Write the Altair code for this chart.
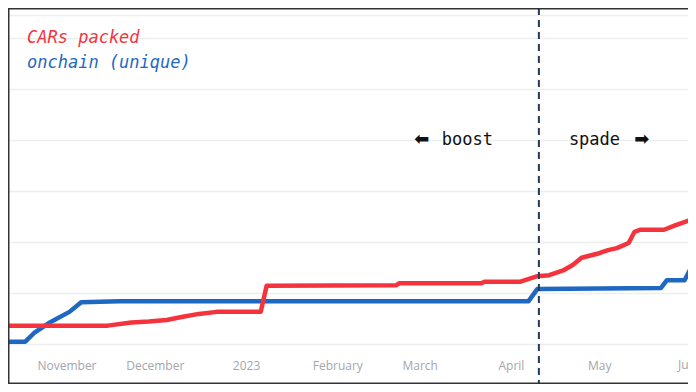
import altair as alt
import pandas as pd

# ---- data ----
onchain_dates = ["2022-10-09T00:00", "2022-10-18T00:00", "2022-10-21T00:00", "2022-10-26T00:00",
                 "2022-11-02T00:00", "2022-11-06T00:00", "2022-11-19T00:00", "2023-04-07T00:00",
                 "2023-04-10T00:00", "2023-05-22T00:00", "2023-05-24T00:00", "2023-05-30T00:00",
                 "2023-06-03T00:00"]
onchain_vals = [4.5, 4.5, 21.6, 41, 63, 82, 84, 84, 108, 110, 125, 125, 169]

cars_dates = ["2022-10-09T00:00", "2022-11-15T00:00", "2022-11-23T00:00", "2022-11-29T00:00",
              "2022-12-05T00:00", "2022-12-11T00:00", "2022-12-16T00:00", "2022-12-22T00:00",
              "2023-01-06T00:00", "2023-01-08T00:00", "2023-02-21T00:00", "2023-02-22T00:00",
              "2023-03-22T00:00", "2023-03-23T00:00", "2023-04-04T00:00", "2023-04-10T00:00",
              "2023-04-14T00:00", "2023-04-19T00:00", "2023-04-22T00:00", "2023-04-25T00:00",
              "2023-05-01T00:00", "2023-05-04T00:00", "2023-05-07T00:00", "2023-05-11T00:00",
              "2023-05-13T00:00", "2023-05-15T00:00", "2023-05-23T00:00", "2023-05-27T00:00",
              "2023-06-01T00:00", "2023-06-03T00:00"]
cars_vals = [36, 36, 42, 44, 47, 54, 59, 63, 63, 114, 115, 119, 119, 122, 122, 133,
             135, 145, 155, 169, 178, 184, 188, 198, 220, 224, 224, 233, 243, 250]

legend_labels = ["CARs packed", "onchain (unique)"]
split_date = ["2023-04-10T12:00"]
phase_labels = ["boost", "spade"]
phase_arrows = ["⬅", "➡"]
grid_values = [0, 100, 200, 300, 400, 500, 600, 645]
extra_tick = ["2023-06-01T00:00"]
extra_tick_label = ["June"]

RED = "#f5333d"
BLUE = "#1e68c4"
W, H = 680, 329
TOP = 7

x_scale = alt.Scale(domain=[alt.DateTime(year=2022, month=10, date=12, hours=3),
                            alt.DateTime(year=2023, month=5, date=31, hours=4)])
y_scale = alt.Scale(domain=[0, 645], nice=False, zero=True)

x_axis = alt.Axis(title=None, grid=False, domain=False, ticks=False,
                  tickCount={"interval": "month", "step": 1},
                  labelFont="Open Sans", labelFontSize=12, labelColor="#a2a6ad",
                  labelPadding=16, labelFlush=False)
y_axis = alt.Axis(title=None, labels=False, ticks=False, domain=False, grid=True,
                  values=grid_values, gridColor="#eceef0", gridWidth=1.6)

onchain_df = pd.DataFrame({"date": onchain_dates, "value": onchain_vals})
cars_df = pd.DataFrame({"date": cars_dates, "value": cars_vals})

blue = alt.Chart(onchain_df).mark_line(color=BLUE, strokeWidth=4.5, clip=True,
                                       strokeJoin="round").encode(
    x=alt.X("date:T", scale=x_scale, axis=x_axis),
    y=alt.Y("value:Q", scale=y_scale, axis=y_axis),
)
red = alt.Chart(cars_df).mark_line(color=RED, strokeWidth=4.5, clip=True,
                                   strokeJoin="round").encode(
    x=alt.X("date:T", scale=x_scale),
    y=alt.Y("value:Q", scale=y_scale),
)

split = alt.Chart(pd.DataFrame({"date": split_date})).mark_rule(
    color="#23395b", strokeWidth=2, strokeDash=[7, 5]).encode(
    x=alt.X("date:T", scale=x_scale),
    y=alt.value(-TOP), y2=alt.value(H + 40),
)

mono = "DejaVu Sans Mono"


def phase_text(label, align, dx, font, size, weight="normal"):
    return alt.Chart(pd.DataFrame({"date": split_date, "v": [400], "t": [label]})).mark_text(
        font=font, fontSize=size, fontWeight=weight, color="#111111", align=align,
        baseline="middle", dx=dx).encode(
        x=alt.X("date:T", scale=x_scale), y=alt.Y("v:Q", scale=y_scale), text="t:N")


boost = phase_text(phase_labels[0], "right", -46, mono, 17)
spade = phase_text(phase_labels[1], "left", 30, mono, 17)
arrow_l = phase_text(phase_arrows[0], "center", -117, "DejaVu Sans", 18, "bold")
arrow_r = phase_text(phase_arrows[1], "center", 103, "DejaVu Sans", 18, "bold")

leg1 = alt.Chart(pd.DataFrame({"t": [legend_labels[0]]})).mark_text(
    font=mono, fontSize=17, fontStyle="italic", color=RED, align="left", baseline="middle").encode(
    x=alt.value(19), y=alt.value(23), text="t:N")
leg2 = alt.Chart(pd.DataFrame({"t": [legend_labels[1]]})).mark_text(
    font=mono, fontSize=17, fontStyle="italic", color=BLUE, align="left", baseline="middle").encode(
    x=alt.value(19), y=alt.value(48), text="t:N")

june = alt.Chart(pd.DataFrame({"date": extra_tick, "t": extra_tick_label})).mark_text(
    font="Open Sans", fontSize=12, color="#a2a6ad", align="center", baseline="top").encode(
    x=alt.X("date:T", scale=x_scale), y=alt.value(H + 16), text="t:N")

one = pd.DataFrame({"a": [0]})
frame_left = alt.Chart(one).mark_rule(color="#333333", strokeWidth=1.5).encode(
    x=alt.value(0.75), y=alt.value(-TOP), y2=alt.value(H + 40))
frame_top = alt.Chart(one).mark_rule(color="#333333", strokeWidth=1.5).encode(
    x=alt.value(0), x2=alt.value(W), y=alt.value(-TOP + 0.75))
frame_bottom = alt.Chart(one).mark_rule(color="#333333", strokeWidth=1.5).encode(
    x=alt.value(0), x2=alt.value(W), y=alt.value(H + 39.25))

chart = alt.layer(blue, red, split, boost, spade, arrow_l, arrow_r, leg1, leg2, june,
                  frame_left, frame_top, frame_bottom).properties(
    width=W, height=H,
    autosize=alt.AutoSizeParams(type="none"),
    padding={"left": 0, "right": 0, "top": TOP, "bottom": 40},
).configure_view(stroke=None).configure(background="white")

chart.save("out.html", embed_options={"renderer": "svg", "actions": False})
